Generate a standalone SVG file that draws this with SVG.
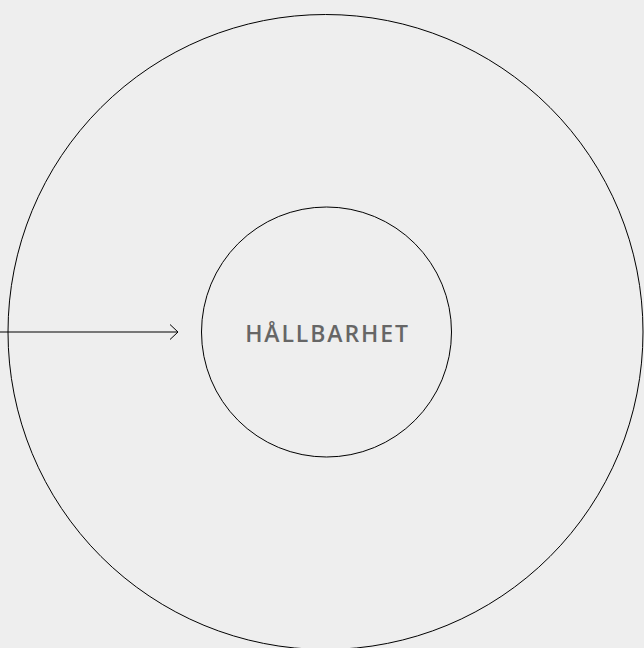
<svg xmlns="http://www.w3.org/2000/svg" width="644" height="648" viewBox="0 0 644 648">
<style>
.c{fill:none;stroke:#000;stroke-width:1}
.t{font-family:"Open Sans","Liberation Sans",sans-serif;font-size:23px;font-weight:600;fill:#666;letter-spacing:1.9px}
</style>
<rect width="644" height="648" fill="#eeeeee"/>
<g id="outer"><circle class="c" cx="325.5" cy="332" r="317.5"/></g>
<g id="inner"><circle class="c" cx="326.5" cy="332" r="125"/><text class="t" x="327.5" y="342" text-anchor="middle">HÅLLBARHET</text></g>
<g id="connectors">
<line class="c" x1="0" y1="332" x2="178" y2="332"/>
<polyline class="c" points="170,324.5 178,332 170,339.5"/>
</g>
</svg>
